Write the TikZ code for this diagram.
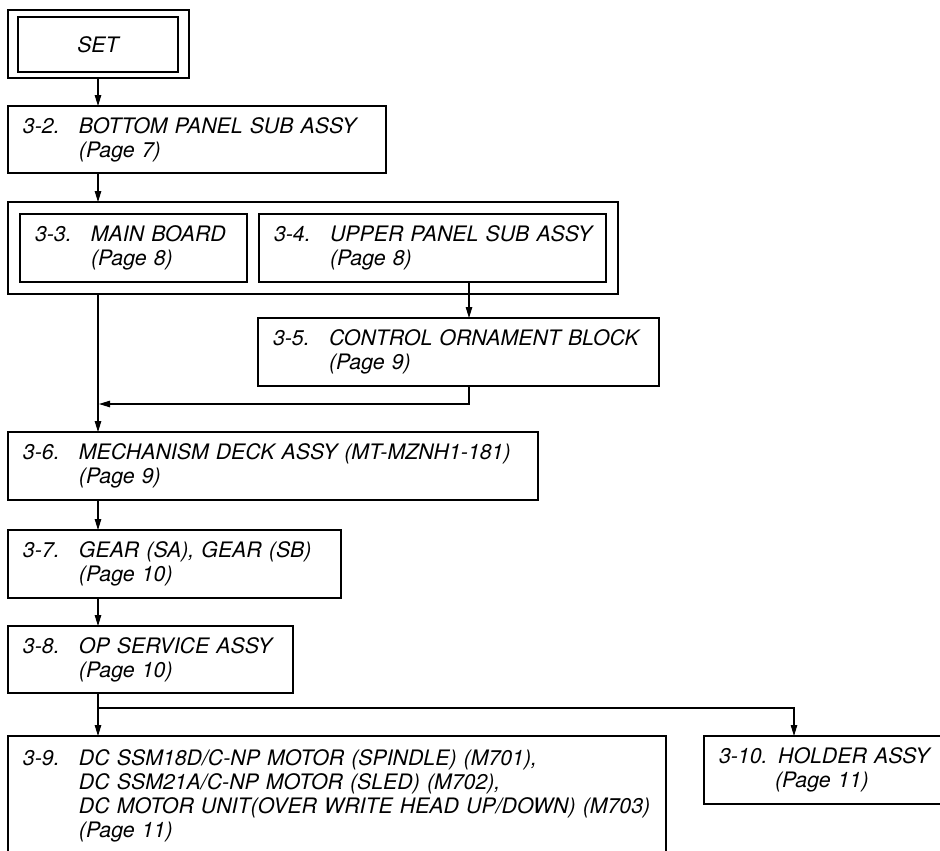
\documentclass[tikz,border=0pt]{standalone}
\usepackage{fontspec}
\setmainfont{TeX Gyre Heros}
\usetikzlibrary{arrows.meta}
\newcommand{\stepline}[2]{\mbox{\makebox[56pt][l]{#1}#2}}
\newcommand{\onpage}[1]{\hspace*{56pt}(Page #1)}
\begin{document}
\begin{tikzpicture}[x=1pt,y=-1pt,
	box/.style={draw,line width=1.1pt,anchor=north west,outer sep=0pt,inner xsep=15pt,inner ysep=0pt,
		align=left,minimum height=68pt,font=\fontsize{21.3}{24}\selectfont\itshape},
	groupbox/.style={draw,line width=2.8pt,anchor=north west,outer sep=0pt,inner sep=0pt},
	arr/.style={line width=1.1pt,-{Triangle[length=11pt,width=6.5pt]}}]
	\useasboundingbox (0,0) rectangle (940,851);
	\coordinate (spine) at (98,0);
	\coordinate (j45) at (469,0);
	\coordinate (j910) at (794,0);
	
	\node[box,minimum width=181pt] (setframe) at (8,10) {};
	\node[box,minimum width=160pt,minimum height=55pt,align=center] (set) at (18,17) {SET};
	
	\node[box,text width=348pt,minimum height=67pt] (b32) at (8,106) {\stepline{3-2.}{BOTTOM PANEL SUB ASSY}\\\onpage{7}};
	
	\node[groupbox,minimum width=610pt,minimum height=92pt] (grp) at (8,202) {};
	\node[box,text width=197pt] (b33) at (20,214) {\stepline{3-3.}{MAIN BOARD}\\\onpage{8}};
	\node[box,text width=317pt] (b34) at (259,214) {\stepline{3-4.}{UPPER PANEL SUB ASSY}\\\onpage{8}};
	
	\node[box,text width=371pt] (b35) at (258,318) {\stepline{3-5.}{CONTROL ORNAMENT BLOCK}\\\onpage{9}};
	\node[box,text width=500pt] (b36) at (8,432) {\stepline{3-6.}{MECHANISM DECK ASSY (MT-MZNH1-181)}\\\onpage{9}};
	\node[box,text width=303pt] (b37) at (8,530) {\stepline{3-7.}{GEAR (SA), GEAR (SB)}\\\onpage{10}};
	\node[box,text width=255pt,minimum height=67pt] (b38) at (8,626) {\stepline{3-8.}{OP SERVICE ASSY}\\\onpage{10}};
	\node[box,text width=628pt,minimum height=120pt] (b39) at (8,736) {\stepline{3-9.}{DC SSM18D/C-NP MOTOR (SPINDLE) (M701),}\\
		\stepline{}{DC SSM21A/C-NP MOTOR (SLED) (M702),}\\
		\stepline{}{DC MOTOR UNIT(OVER WRITE HEAD UP/DOWN) (M703)}\\\onpage{11}};
	\node[box,text width=211pt] (b310) at (704,736) {\mbox{3-10. HOLDER ASSY}\\\onpage{11}};
	
	\draw[arr] (setframe.south -| spine) -- (b32.north -| spine);
	\draw[arr] (b32.south -| spine) -- (grp.north -| spine);
	\draw[arr] (grp.south -| spine) -- (b36.north -| spine);
	\draw[arr] (b34.south -| j45) -- (b35.north -| j45);
	\coordinate (merge) at (99,404);
	\draw[arr] (b35.south -| j45) |- (merge);
	\draw[arr] (b36.south -| spine) -- (b37.north -| spine);
	\draw[arr] (b37.south -| spine) -- (b38.north -| spine);
	\draw[arr] (b38.south -| spine) -- (b39.north -| spine);
	\coordinate (split) at (98,708);
	\draw[arr] (split) -| (b310.north -| j910);
\end{tikzpicture}
\end{document}
